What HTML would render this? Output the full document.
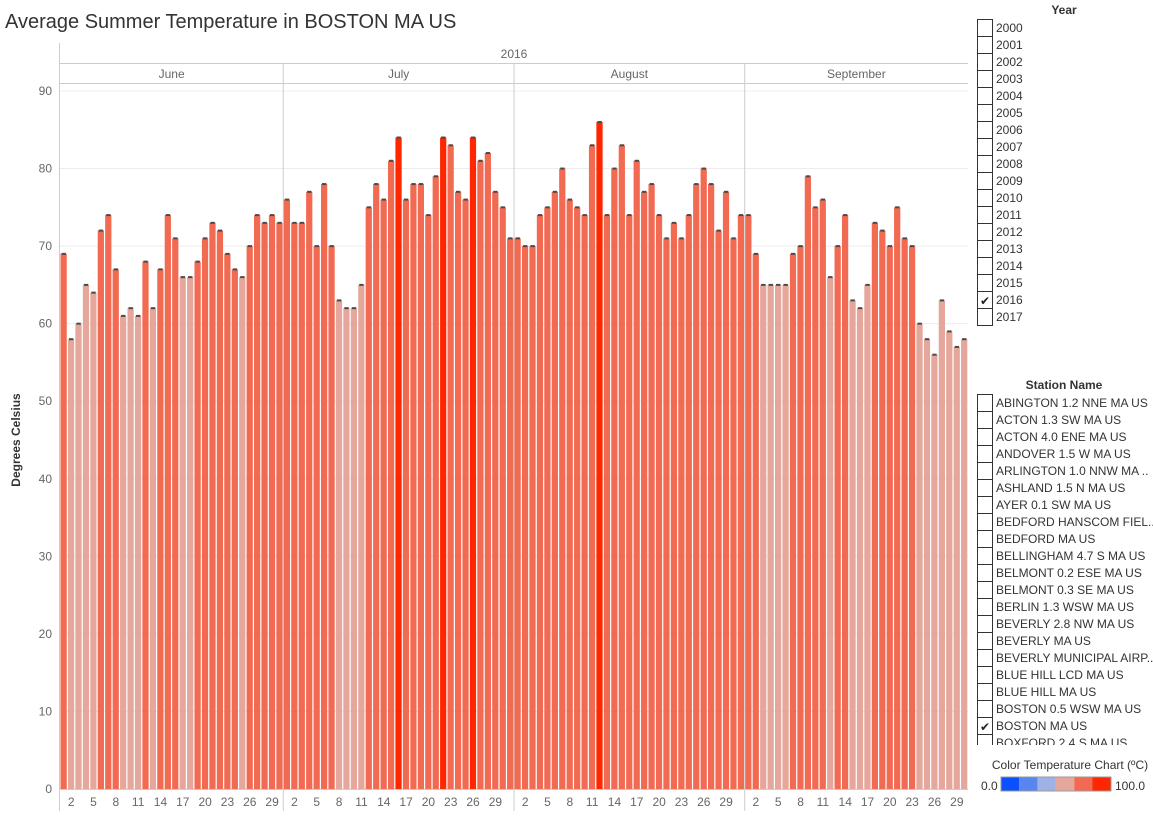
<!DOCTYPE html>
<html><head><meta charset="utf-8"><style>
body{margin:0;width:1153px;height:811px;overflow:hidden;background:#fff;font-family:"Liberation Sans",sans-serif;}
svg text{font-family:"Liberation Sans",sans-serif;}
</style></head><body>
<svg id="c" width="1153" height="811">
<text x="5" y="28" font-size="20" fill="#333">Average Summer Temperature in BOSTON MA US</text>
<g id="plot"></g>
<g id="panel"></g>
</svg>
<script>
const months=["June","July","August","September"];
const juneVals=[69,58,60,65,64,72,74,67,61,62,61,68,62,67,74,71,66,66,68,71,73,72,69,67,66,70,74,73,74,73];
const julyVals=[76,73,73,77,70,78,70,63,62,62,65,75,78,76,81,84,76,78,78,74,79,84,83,77,76,84,81,82,77,75,71];
const augVals=[71,70,70,74,75,77,80,76,75,74,83,86,74,80,83,74,81,77,78,74,71,73,71,74,78,80,78,72,77,71,74];
const sepVals=[74,69,65,65,65,65,69,70,79,75,76,66,70,74,63,62,65,73,72,70,75,71,70,60,58,56,63,59,57,58];
const yTicks=[0,10,20,30,40,50,60,70,80,90];
const dayTicks=[2,5,8,11,14,17,20,23,26,29];
const years=["2000","2001","2002","2003","2004","2005","2006","2007","2008","2009","2010","2011","2012","2013","2014","2015","2016","2017"];
const stations=["ABINGTON 1.2 NNE MA US","ACTON 1.3 SW MA US","ACTON 4.0 ENE MA US","ANDOVER 1.5 W MA US","ARLINGTON 1.0 NNW MA ..","ASHLAND 1.5 N MA US","AYER 0.1 SW MA US","BEDFORD HANSCOM FIEL..","BEDFORD MA US","BELLINGHAM 4.7 S MA US","BELMONT 0.2 ESE MA US","BELMONT 0.3 SE MA US","BERLIN 1.3 WSW MA US","BEVERLY 2.8 NW MA US","BEVERLY MA US","BEVERLY MUNICIPAL AIRP..","BLUE HILL LCD MA US","BLUE HILL MA US","BOSTON 0.5 WSW MA US","BOSTON MA US","BOXFORD 2.4 S MA US"];
const monthVals=[juneVals,julyVals,augVals,sepVals];

const NS="http://www.w3.org/2000/svg";
const X0=60,X1=968,Y0=789,YTOP=91;
const totalDays=monthVals.reduce((a,m)=>a+m.length,0);
const dw=(X1-X0)/totalDays;
function y(v){return Y0-(v/90)*(Y0-YTOP);}
function xd(i){return X0+i*dw;}
function el(t,a,p){const e=document.createElementNS(NS,t);for(const k in a)e.setAttribute(k,a[k]);(p||document.getElementById('plot')).appendChild(e);return e;}
function col(v){return v>=84?"#ff2600":(v>66?"#f26a52":"#e5a69b");}
const plot=document.getElementById('plot');
// gridlines
yTicks.forEach(t=>{
  const g=el('line',{x1:X0,x2:X1,y1:y(t),y2:y(t),stroke:"#ececec","stroke-width":1});
  
  
  const tx=el('text',{x:52,y:y(t)+4,"font-size":12,fill:"#666","text-anchor":"end"});
  tx.textContent=t;
  
  
});
const yt=el('text',{x:20,y:440,"font-size":12,fill:"#333","text-anchor":"middle","font-weight":"bold",transform:"rotate(-90 20 440)"});
yt.textContent="Degrees Celsius";


// header
const yr=el('text',{x:514,y:58,"font-size":12,fill:"#666","text-anchor":"middle"});
yr.textContent="2016";


el('line',{x1:X0,x2:X1,y1:83.5,y2:83.5,stroke:"#ccc"});
el('line',{x1:X0-0.5,x2:X0-0.5,y1:43,y2:811,stroke:"#ccc"});
let idx=0;
monthVals.forEach((vals,m)=>{
  const xs=xd(idx),xe=xd(idx+vals.length);
  if(m>0){el('line',{x1:xs,x2:xs,y1:63,y2:811,stroke:"#ccc"});}
  const mt=el('text',{x:(xs+xe)/2,y:78,"font-size":12,fill:"#666","text-anchor":"middle"});
  mt.textContent=months[m];
  
  
  vals.forEach((v,d)=>{
    const bx=xd(idx+d);
    const r=el('rect',{x:bx+0.5,y:y(v),width:dw-1.2,height:Y0-y(v),fill:col(v)});
    
    
    el('rect',{x:bx+dw/2-2.2,y:y(v)-1,width:4.4,height:2,fill:"#4a4a4a"});
  });
  dayTicks.forEach(t=>{
    if(t>vals.length)return;
    const tx=el('text',{x:xd(idx+t-0.5),y:806,"font-size":12,fill:"#666","text-anchor":"middle"});
    tx.textContent=t;
    
    
  });
  idx+=vals.length;
});
el('line',{x1:X0,x2:X1,y1:63.5,y2:63.5,stroke:"#ccc"});
el('line',{x1:X0,x2:X1,y1:Y0+0.5,y2:Y0+0.5,stroke:"#ccc"});
// right panel
const panel=document.getElementById('panel');
const t1=el('text',{x:1064,y:14,"font-size":12,fill:"#333","font-weight":"bold","text-anchor":"middle"},panel);
t1.textContent="Year";


function cbList(items,startY,checked,prefix){
  items.forEach((s,i)=>{
    const yy=startY+i*17;
    const b=el('rect',{x:977.5,y:yy+0.5,width:15,height:17,fill:"#fff",stroke:"#333","stroke-width":1},panel);
    
    
    if(s===checked){const c=el('text',{x:980,y:yy+14,"font-size":12,fill:"#222"},panel);c.textContent="✔";}
    const tx=el('text',{x:996,y:yy+13,"font-size":12,fill:"#333"},panel);
    tx.textContent=s;
    
    
  });
}
cbList(years,19,"2016","year");
const t2=el('text',{x:1064,y:389,"font-size":12,fill:"#333","font-weight":"bold","text-anchor":"middle"},panel);
t2.textContent="Station Name";


const clip=el('clipPath',{id:"sc"},panel);el('rect',{x:970,y:390,width:183,height:355},clip);
const sg=el('g',{"clip-path":"url(#sc)"},panel);
const oldPanel=panel;
stations.forEach((s,i)=>{
  const yy=394+i*17;
  const b=el('rect',{x:977.5,y:yy+0.5,width:15,height:17,fill:"#fff",stroke:"#333"},sg);
  
  
  if(s==="BOSTON MA US"){const c=el('text',{x:980,y:yy+14,"font-size":12,fill:"#222"},sg);c.textContent="✔";}
  const tx=el('text',{x:996,y:yy+13,"font-size":12,fill:"#333"},sg);
  tx.textContent=s;
  
  
});
const lt=el('text',{x:1070,y:769,"font-size":12,fill:"#333","text-anchor":"middle"},panel);
lt.textContent="Color Temperature Chart (ºC)";


const l0=el('text',{x:981,y:790,"font-size":12,fill:"#333"},panel);l0.textContent="0.0";
const l1=el('text',{x:1115,y:790,"font-size":12,fill:"#333"},panel);l1.textContent="100.0";
["#0a50ff","#5885f0","#9fb2e6","#e5a69b","#f26a52","#ff2600"].forEach((c,i)=>{
  const r=el('rect',{x:1001+i*18.3,y:777,width:18.3,height:14,fill:c},panel);
  
  
});
el('rect',{x:1001,y:777,width:110,height:14,fill:"none",stroke:"#999"},panel);
</script>
</body></html>
